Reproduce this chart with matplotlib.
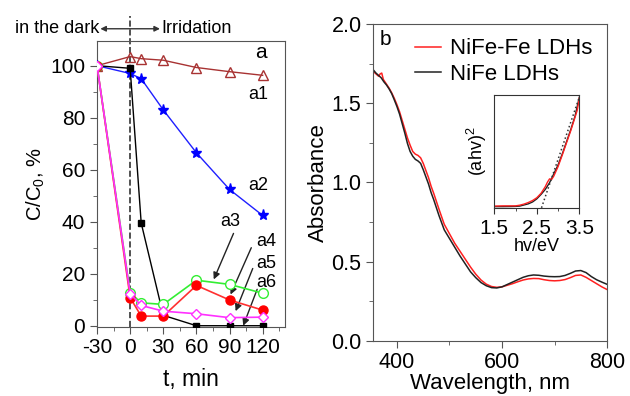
import matplotlib
matplotlib.use("Agg")
import matplotlib.pyplot as plt
from matplotlib.ticker import MultipleLocator

plt.rcParams['font.family'] = ['Liberation Sans', 'DejaVu Sans']
plt.rcParams['mathtext.fontset'] = 'custom'
plt.rcParams['mathtext.rm'] = 'Liberation Sans'
plt.rcParams['mathtext.it'] = 'Liberation Sans:italic'
plt.rcParams['axes.unicode_minus'] = False

# ---- panel a: degradation vs time ----
t = [-30, 0, 10, 30, 60, 90, 120]
a1 = [100, 103.5, 102.7, 102.1, 99.3, 97.7, 96.3]
a2 = [100, 97, 95, 83, 66.5, 52.4, 42.4]
black_sq = [100, 99, 39.5, 4, 0, 0, 0]
green_c = [100, 12.7, 8.8, 8.2, 17.5, 15.9, 12.5]
red_c = [100, 10.8, 3.7, 3.7, 15.5, 9.9, 6.0]
pink_d = [100, 12.3, 7.8, 5.6, 4.6, 3.1, 3.3]

# ---- panel b: UV-vis spectra ----
wl_black = [355, 360, 365, 370, 375, 380, 385, 390, 395, 400, 405, 410, 415, 420,
            425, 430, 435, 440, 445, 450, 455, 460, 465, 470, 480, 490, 500, 510,
            520, 530, 540, 550, 560, 570, 580, 590, 600, 610, 620, 630, 640, 650,
            660, 670, 680, 690, 700, 710, 720, 730, 740, 750, 760, 770, 780, 790, 800]
abs_black = [1.71, 1.69, 1.675, 1.66, 1.635, 1.615, 1.59, 1.56, 1.52, 1.478, 1.43,
             1.37, 1.31, 1.245, 1.195, 1.165, 1.145, 1.135, 1.12, 1.08, 1.035, 0.99,
             0.935, 0.89, 0.79, 0.70, 0.645, 0.59, 0.535, 0.485, 0.435, 0.398,
             0.367, 0.347, 0.335, 0.333, 0.34, 0.355, 0.37, 0.385, 0.40, 0.41,
             0.415, 0.413, 0.408, 0.405, 0.404, 0.405, 0.412, 0.425, 0.44, 0.443,
             0.43, 0.405, 0.385, 0.37, 0.356]
wl_red = [355, 360, 365, 368, 371, 374, 380, 385, 390, 395, 400, 405, 410, 415,
          420, 425, 430, 435, 440, 445, 450, 455, 460, 465, 470, 480, 490, 500,
          510, 520, 530, 540, 550, 560, 570, 580, 590, 600, 610, 620, 630, 640,
          650, 660, 670, 680, 690, 700, 710, 720, 730, 740, 750, 760, 770, 780,
          790, 800]
abs_red = [1.70, 1.685, 1.67, 1.685, 1.69, 1.65, 1.62, 1.595, 1.565, 1.53, 1.49,
           1.445, 1.39, 1.335, 1.28, 1.235, 1.195, 1.178, 1.17, 1.155, 1.12, 1.075,
           1.03, 0.975, 0.93, 0.83, 0.735, 0.675, 0.615, 0.565, 0.515, 0.465,
           0.42, 0.383, 0.357, 0.342, 0.337, 0.34, 0.35, 0.36, 0.372, 0.383,
           0.39, 0.393, 0.392, 0.385, 0.38, 0.378, 0.38, 0.386, 0.398, 0.412,
           0.415, 0.40, 0.38, 0.36, 0.34, 0.323]

# ---- inset: Tauc plot ----
hv_black = [1.5, 1.7, 1.9, 2.0, 2.1, 2.2, 2.3, 2.4, 2.5, 2.6, 2.7, 2.8, 2.9, 3.0,
            3.1, 3.2, 3.3, 3.4, 3.5]
tauc_black = [0.015, 0.015, 0.016, 0.017, 0.02, 0.03, 0.04, 0.057, 0.085, 0.125,
              0.17, 0.23, 0.31, 0.39, 0.49, 0.60, 0.71, 0.83, 1.0]
hv_red = [1.5, 1.7, 1.9, 2.0, 2.1, 2.2, 2.3, 2.4, 2.5, 2.6, 2.7, 2.75, 2.8, 2.85,
          2.9, 3.0, 3.1, 3.2, 3.3, 3.35, 3.4, 3.45, 3.5]
tauc_red = [0.02, 0.022, 0.022, 0.022, 0.028, 0.038, 0.052, 0.07, 0.095, 0.135,
            0.195, 0.235, 0.265, 0.26, 0.29, 0.375, 0.48, 0.59, 0.70, 0.76, 0.82,
            0.88, 0.99]
tangent_hv = [2.58, 3.5]
tangent_y = [-0.03, 1.0]

spine_col = '#555555'


def style_axes(ax):
	for s in ax.spines.values():
		s.set_color(spine_col)
	ax.tick_params(which='both', direction='out', colors=spine_col, labelcolor='black',
				   top=False, right=False)
	ax.tick_params(which='major', length=5)
	ax.tick_params(which='minor', length=3)


fig = plt.figure(figsize=(6.3, 3.96), dpi=100)

# panel a
ax = fig.add_axes([0.154, 0.1755, 0.298, 0.721])
style_axes(ax)
ax.plot(t, a1, color='#a83232', lw=1, marker='^', ms=7, mfc='none', mec='#a83232', zorder=3)
ax.plot(t, a2, color='#1f1fff', lw=1, marker='*', ms=8, mfc='#0000ff', mec='#0000ff', zorder=3)
ax.plot(t, black_sq, color='black', lw=1, marker='s', ms=4.5, zorder=3)
ax.plot(t, green_c, color='#33ee33', lw=1.2, marker='o', ms=7, mfc='white', mec='#33ee33', zorder=4)
ax.plot(t, red_c, color='#ff3030', lw=1.2, marker='o', ms=6.5, mfc='red', mec='red', zorder=5)
ax.plot(t, pink_d, color='#ff30ff', lw=1.2, marker='D', ms=5.5, mfc='white', mec='#ff30ff', zorder=6)
ax.plot([0, 0], [-0.3, 119], color='#333333', ls='--', lw=1.2, clip_on=False, zorder=2)

ax.set_xlim(-30, 140)
ax.set_ylim(-0.3, 109.5)
ax.set_xticks([-30, 0, 30, 60, 90, 120])
ax.xaxis.set_minor_locator(MultipleLocator(15))
ax.set_yticks([0, 20, 40, 60, 80, 100])
ax.yaxis.set_minor_locator(MultipleLocator(10))
ax.tick_params(labelsize=15)
ax.set_xlabel('t, min', fontsize=16.5, labelpad=8)
ax.set_ylabel('C/C$_0$, %', fontsize=14.5, labelpad=2)

ax.text(118.4, 105, 'a', fontsize=15, ha='center', va='center')
ax.text(116.4, 89.1, 'a1', fontsize=13, ha='center', va='center')
ax.text(116, 53.8, 'a2', fontsize=13, ha='center', va='center')

arrow_kw = dict(arrowstyle='-|>', color='#222222', lw=1, mutation_scale=10, shrinkA=0, shrinkB=0)
ax.annotate('', xy=(75.7, 17.8), xytext=(93.6, 35.5), arrowprops=arrow_kw)
ax.text(91, 40.1, 'a3', fontsize=13, ha='center', va='center')
ax.annotate('', xy=(90.9, 12), xytext=(109.7, 30), arrowprops=arrow_kw)
ax.text(123.5, 32.2, 'a4', fontsize=13, ha='center', va='center')
ax.annotate('', xy=(95.5, 5.6), xytext=(111, 22), arrowprops=arrow_kw)
ax.text(123.5, 23.9, 'a5', fontsize=13, ha='center', va='center')
ax.annotate('', xy=(102.4, 0), xytext=(115, 14), arrowprops=arrow_kw)
ax.text(123.5, 16.8, 'a6', fontsize=13, ha='center', va='center')

ax.annotate('', xy=(-27, 114.2), xytext=(27, 114.2), annotation_clip=False,
			arrowprops=dict(arrowstyle='<|-|>', color='#333333', lw=1, mutation_scale=8,
							shrinkA=0, shrinkB=0))
ax.text(-28, 114.2, 'in the dark', fontsize=13, ha='right', va='center', clip_on=False)
ax.text(28, 114.2, 'Irridation', fontsize=13, ha='left', va='center', clip_on=False)

# panel b
bx = fig.add_axes([0.5926, 0.1397, 0.371, 0.7997])
style_axes(bx)
bx.plot(wl_red, abs_red, color='#ff2020', lw=1.1, label='NiFe-Fe LDHs')
bx.plot(wl_black, abs_black, color='#222222', lw=1.1, label='NiFe LDHs')
bx.set_xlim(355, 800)
bx.set_ylim(0, 2.0)
bx.set_xticks([400, 600, 800])
bx.xaxis.set_minor_locator(MultipleLocator(100))
bx.set_yticks([0, 0.5, 1.0, 1.5, 2.0])
bx.set_yticklabels(['0.0', '0.5', '1.0', '1.5', '2.0'])
bx.yaxis.set_minor_locator(MultipleLocator(0.25))
bx.tick_params(labelsize=15.5)
bx.set_xlabel('Wavelength, nm', fontsize=16, labelpad=0)
bx.set_ylabel('Absorbance', fontsize=16, labelpad=2)
bx.text(368, 1.9, 'b', fontsize=15, ha='left', va='center')
bx.legend(loc='upper right', bbox_to_anchor=(1.0, 1.0), frameon=False, fontsize=16,
		  handlelength=1.2, handletextpad=0.4, labelspacing=0.2, borderaxespad=0.25)

# inset
ix = fig.add_axes([0.7846, 0.474, 0.1349, 0.286])
for s in ix.spines.values():
	s.set_color('#333333')
ix.plot(hv_black, tauc_black, color='#222222', lw=1)
ix.plot(hv_red, tauc_red, color='#ff2020', lw=1)
ix.plot(tangent_hv, tangent_y, color='#333333', lw=1.1, ls=':')
ix.set_xlim(1.5, 3.5)
ix.set_ylim(0, 1.02)
ix.set_xticks([1.5, 2.5, 3.5])
ix.xaxis.set_minor_locator(MultipleLocator(0.5))
ix.set_yticks([])
ix.tick_params(which='both', direction='out', colors='#333333', labelcolor='black', labelsize=15)
ix.tick_params(which='major', length=4)
ix.tick_params(which='minor', length=2.5)
ix.set_xlabel('hv/eV', fontsize=13, labelpad=0)
ix.set_ylabel('(ahv)$^2$', fontsize=13, labelpad=4)

fig.savefig('out.png', dpi=100)
